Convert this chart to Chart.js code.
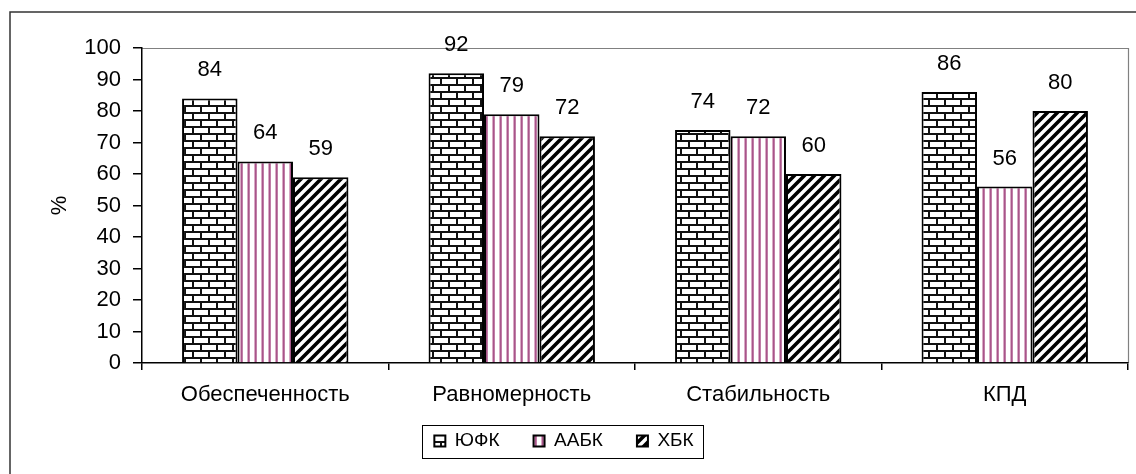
<!DOCTYPE html>
<html>
<head>
<meta charset="utf-8">
<script src="https://cdn.jsdelivr.net/npm/chart.js@4"></script>
<style>
    body { margin: 0; background: #fff; }
    #wrap { width: 1136px; height: 474px; }
</style>
</head>
<body>
<div id="wrap"><canvas id="chart" width="1136" height="474"></canvas></div>
<script>
// Dados do grafico
const categorias = ['Обеспеченность', 'Равномерность', 'Стабильность', 'КПД'];
const serieNomes = ['ЮФК', 'ААБК', 'ХБК'];
const yufk = [84, 92, 74, 86];
const aabk = [64, 79, 72, 56];
const hbk = [59, 72, 60, 80];
const yTicks = [0, 10, 20, 30, 40, 50, 60, 70, 80, 90, 100];

const FONT = "'Liberation Sans', Arial, sans-serif";
const LEGEND_PAD = 34;

// Padroes de preenchimento (tijolo, listras verticais, diagonais)
function makePattern(kind) {
    const c = document.createElement('canvas');
    const g = c.getContext('2d');
    if (kind === 'brick') {
        c.width = 16; c.height = 14;
        g.fillStyle = '#fff'; g.fillRect(0, 0, 16, 14);
        g.fillStyle = '#111';
        g.fillRect(0, 0, 16, 2);
        g.fillRect(0, 7, 16, 2);
        g.fillRect(0, 0, 2, 7);
        g.fillRect(8, 7, 2, 7);
    } else if (kind === 'vstripe') {
        c.width = 7; c.height = 4;
        g.fillStyle = '#fff'; g.fillRect(0, 0, 7, 4);
        g.fillStyle = '#d9a9c5'; g.fillRect(2, 0, 3, 4);
        g.fillStyle = '#a8558a'; g.fillRect(3, 0, 1.5, 4);
    } else {
        c.width = 10; c.height = 10;
        g.fillStyle = '#fff'; g.fillRect(0, 0, 10, 10);
        g.strokeStyle = '#000';
        g.lineWidth = 3.6;
        g.beginPath();
        g.moveTo(-1, 11); g.lineTo(11, -1);
        g.moveTo(-6, 6); g.lineTo(6, -6);
        g.moveTo(4, 16); g.lineTo(16, 4);
        g.stroke();
    }
    return g.createPattern(c, 'repeat');
}

document.addEventListener('DOMContentLoaded', function() {
    const ctx = document.getElementById('chart').getContext('2d');

    // Moldura externa, borda da area do grafico, rotulos de valor e caixa da legenda
    const extras = {
        id: 'extras',
        afterLayout(chart) {
            // legenda logo abaixo dos rotulos do eixo x
            const lg = chart.legend;
            lg.top = 431.5 - LEGEND_PAD;
            lg.bottom = chart.height;
            lg.height = lg.bottom - lg.top;
        },
        beforeDraw(chart) {
            const c = chart.ctx;
            c.save();
            c.fillStyle = '#fff';
            c.fillRect(0, 0, chart.width, chart.height);
            c.strokeStyle = '#333';
            c.lineWidth = 1.5;
            c.beginPath();
            c.moveTo(10, chart.height);
            c.lineTo(10, 12);
            c.lineTo(chart.width, 12);
            c.stroke();
            const a = chart.chartArea;
            c.strokeStyle = '#808080';
            c.lineWidth = 1.2;
            c.beginPath();
            c.moveTo(a.left, a.top + 0.5);
            c.lineTo(a.right + 0.5, a.top + 0.5);
            c.lineTo(a.right + 0.5, a.bottom);
            c.stroke();
            c.restore();
        },
        afterDatasetsDraw(chart) {
            const c = chart.ctx;
            c.save();
            c.font = '22px ' + FONT;
            c.fillStyle = '#000';
            c.textAlign = 'center';
            c.textBaseline = 'middle';
            chart.data.datasets.forEach((ds, i) => {
                chart.getDatasetMeta(i).data.forEach((bar, j) => {
                    c.fillText(String(ds.data[j]), bar.x, bar.y - 28);
                });
            });
            c.restore();
        },
        afterDraw(chart) {
            const lg = chart.legend;
            const boxes = lg.legendHitBoxes;
            if (!boxes || !boxes.length) return;
            const left = Math.min(...boxes.map(b => b.left)) - 12;
            const right = Math.max(...boxes.map(b => b.left + b.width)) + 10;
            const itemTop = lg.top + LEGEND_PAD;
            const top = itemTop - 7;
            const bottom = itemTop + 19 + 7;
            const c = chart.ctx;
            c.save();
            c.strokeStyle = '#000';
            c.lineWidth = 1;
            c.strokeRect(Math.round(left) + 0.5, Math.round(top) + 0.5, Math.round(right - left), Math.round(bottom - top));
            c.restore();
        }
    };

    const barChart = new Chart(ctx, {
        type: 'bar',
        data: {
            labels: categorias,
            datasets: [
                { label: serieNomes[0], data: yufk, backgroundColor: makePattern('brick') },
                { label: serieNomes[1], data: aabk, backgroundColor: makePattern('vstripe') },
                { label: serieNomes[2], data: hbk, backgroundColor: makePattern('diag') }
            ].map(d => Object.assign(d, {
                borderColor: '#000',
                borderWidth: 2,
                borderSkipped: 'bottom',
                categoryPercentage: 0.675,
                barPercentage: 1.0
            }))
        },
        options: {
            responsive: false,
            animation: false,
            layout: { padding: { left: 0, right: 8, top: 48, bottom: 5 } },
            plugins: {
                tooltip: { enabled: false },
                legend: {
                    position: 'bottom',
                    maxHeight: 60,
                    labels: {
                        color: '#000',
                        font: { family: FONT, size: 19 },
                        boxWidth: 11,
                        boxHeight: 11,
                        padding: LEGEND_PAD
                    }
                }
            },
            scales: {
                x: {
                    afterFit: s => { s.height = 46; },
                    grid: { drawOnChartArea: false, tickLength: 7, color: '#000', lineWidth: 1.5 },
                    border: { color: '#000', width: 1.5 },
                    ticks: { color: '#000', padding: 12, font: { family: FONT, size: 22 }, maxRotation: 0 }
                },
                y: {
                    min: yTicks[0],
                    max: yTicks[yTicks.length - 1],
                    afterFit: s => { s.width = 142; },
                    afterBuildTicks: s => { s.ticks = yTicks.map(v => ({ value: v })); },
                    grid: { drawOnChartArea: false, tickLength: 9, color: '#000', lineWidth: 1.5 },
                    border: { color: '#000', width: 1.5 },
                    ticks: { color: '#000', padding: 12, font: { family: FONT, size: 22 } },
                    title: {
                        display: true,
                        text: '%',
                        color: '#000',
                        font: { family: FONT, size: 22 },
                        padding: { top: 47, bottom: 0 }
                    }
                }
            }
        },
        plugins: [extras]
    });
});
</script>
</body>
</html>
